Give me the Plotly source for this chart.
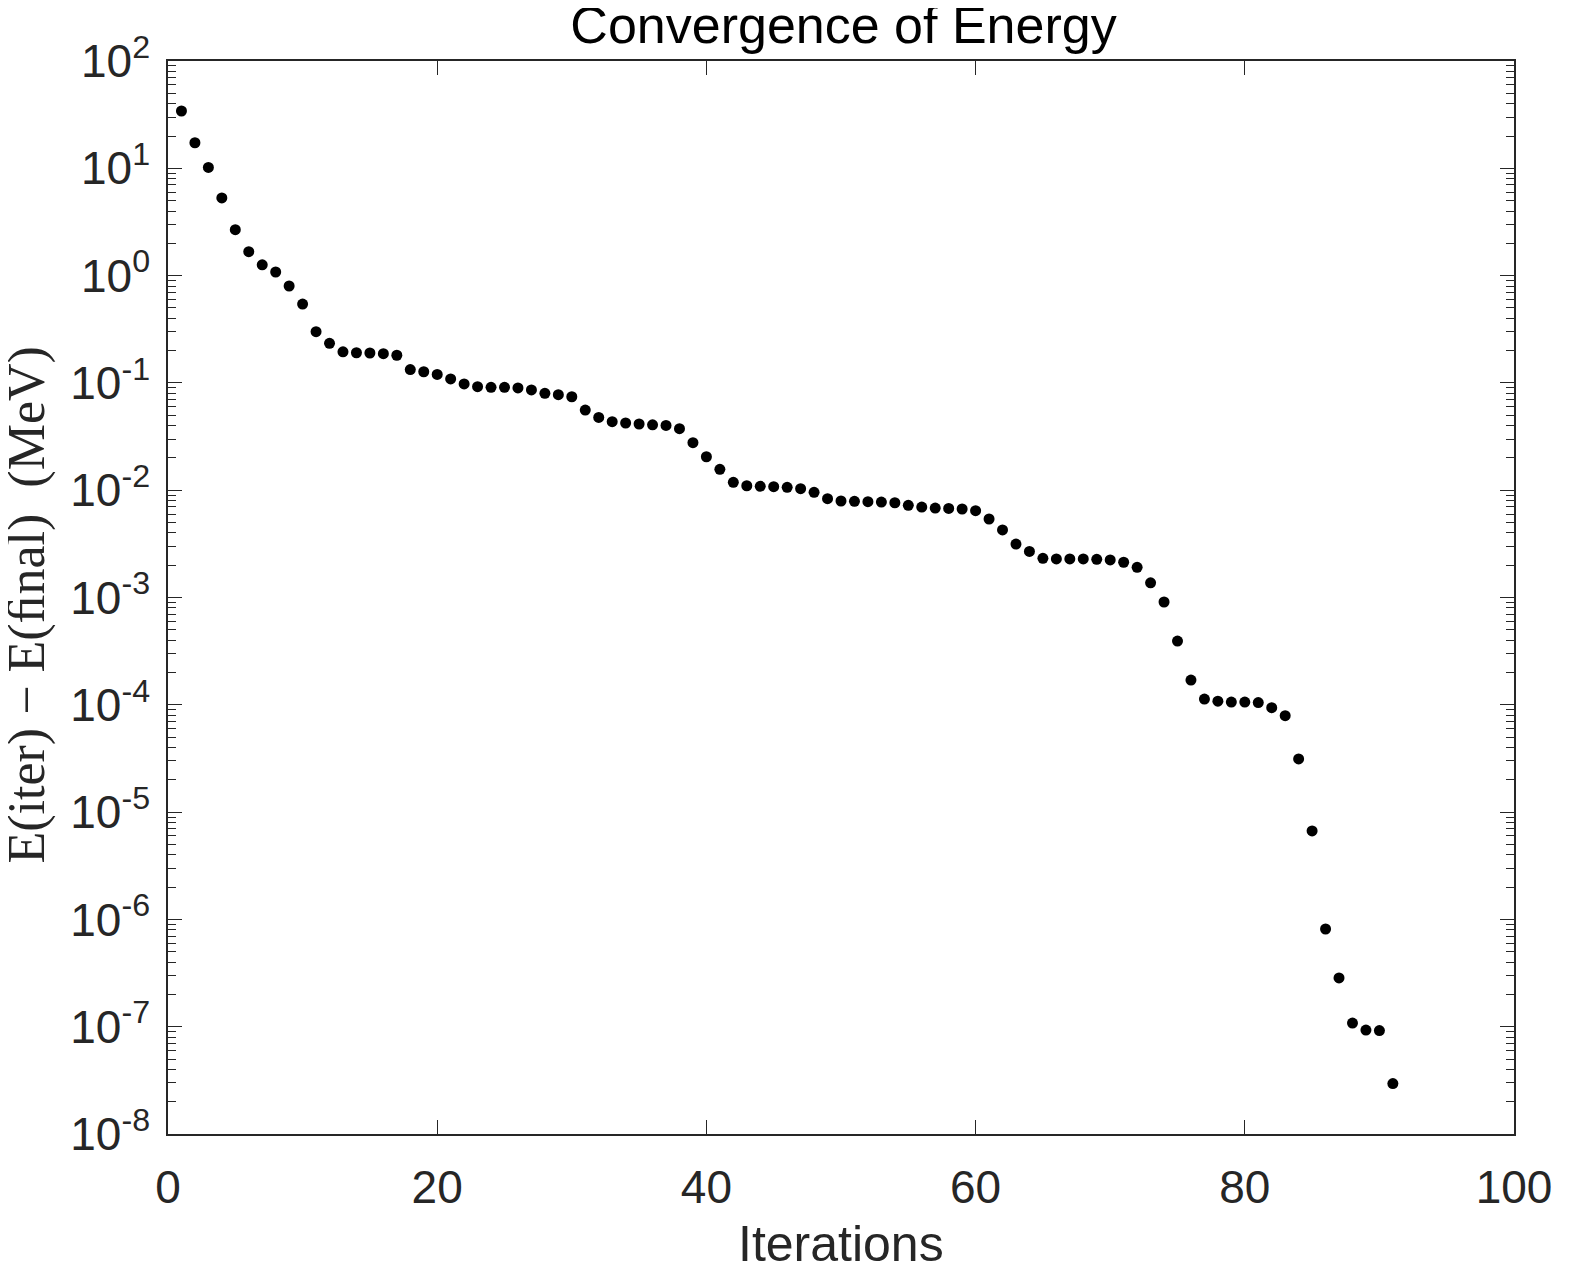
import plotly.graph_objects as go

iterations = list(range(1, 92))
energy_diff = [
    34.2, 17.3, 10.2, 5.3, 2.68, 1.67, 1.26, 1.08, 0.80, 0.543,
    0.300, 0.234, 0.195, 0.191, 0.190, 0.187, 0.181, 0.133, 0.127, 0.120,
    0.109, 0.0977, 0.0923, 0.0910, 0.0910, 0.0897, 0.0860, 0.0800, 0.0776, 0.0743,
    0.0558, 0.0477, 0.0435, 0.0423, 0.0414, 0.0407, 0.0401, 0.0374, 0.0277, 0.0205,
    0.01566, 0.01184, 0.0110, 0.01086, 0.01078, 0.01064, 0.01033, 0.00955, 0.00833, 0.00793,
    0.00787, 0.00781, 0.00776, 0.00764, 0.00723, 0.00697, 0.00682, 0.00677, 0.00668, 0.00644,
    0.00539, 0.00426, 0.00315, 0.00269, 0.00232, 0.00229, 0.00229, 0.00229, 0.00227, 0.00224,
    0.00213, 0.00191, 0.00137, 0.000908, 0.000393, 0.000170, 0.000113, 0.000108, 0.000106, 0.000106,
    0.000105, 0.0000940, 0.0000792, 0.0000313, 6.67e-6, 8.14e-7, 2.85e-7, 1.08e-7, 9.3e-8, 9.2e-8,
    2.95e-8,
]

y_tickvals = [1e-8, 1e-7, 1e-6, 1e-5, 1e-4, 1e-3, 1e-2, 1e-1, 1e0, 1e1, 1e2]
y_ticktext = ["10<sup>-8</sup>", "10<sup>-7</sup>", "10<sup>-6</sup>", "10<sup>-5</sup>",
              "10<sup>-4</sup>", "10<sup>-3</sup>", "10<sup>-2</sup>", "10<sup>-1</sup>",
              "10<sup>0</sup>", "10<sup>1</sup>", "10<sup>2</sup>"]
x_tickvals = [0, 20, 40, 60, 80, 100]

title_text = "Convergence of Energy"
x_label = "Iterations"
y_label = "E(iter) \u2212 E(\ufb01nal)  (MeV)"

axis_color = "#262626"
OFF = 8  # page body margin (all sides)
W, H = 1572 - 2 * OFF, 1270 - 2 * OFF
# target page-pixel geometry of the plot box
PL, PR, PT, PB = 168, 1519, 61, 1134
L, T = PL - OFF, PT - OFF
R = W - (PR - OFF)
B = H - (PB - OFF)
plot_w = W - L - R
plot_h = H - T - B

fig = go.Figure()
fig.add_trace(go.Scatter(
    x=iterations, y=energy_diff, mode="markers",
    marker=dict(color="black", size=11, line=dict(width=0)),
    showlegend=False,
))

fig.update_layout(
    width=W, height=H,
    margin=dict(l=L, r=R, t=T, b=B),
    paper_bgcolor="white", plot_bgcolor="white",
    font=dict(family="Liberation Sans, Arial, sans-serif", color=axis_color, size=46),
    title=dict(text=title_text, x=(L + plot_w / 2) / W, xanchor="center",
               y=1 - (25 - OFF) / H, yanchor="middle", yref="container",
               font=dict(size=52, color="black", family="Liberation Sans, Arial, sans-serif")),
)

fig.update_xaxes(
    range=[0, 100], tickmode="array", tickvals=x_tickvals,
    ticks="inside", ticklen=14, tickwidth=1, tickcolor=axis_color,
    showline=True, linecolor=axis_color, linewidth=1.5, mirror="ticks",
    showgrid=False, zeroline=False,
    tickfont=dict(size=46, color=axis_color),
    ticklabelstandoff=12, ticklabeloverflow="allow",
)

fig.update_yaxes(
    type="log", range=[-8, 2], tickmode="array", tickvals=y_tickvals, ticktext=y_ticktext,
    ticks="inside", ticklen=14, tickwidth=1, tickcolor=axis_color,
    showline=True, linecolor=axis_color, linewidth=1.5, mirror="ticks",
    showgrid=False, zeroline=False,
    tickfont=dict(size=46, color=axis_color),
    ticklabelstandoff=7,
    minor=dict(ticks="inside", ticklen=8, tickwidth=1, tickcolor=axis_color,
               dtick="D1", showgrid=False),
)

fig.add_annotation(
    text=x_label, xref="paper", yref="paper",
    x=0.5, y=-(1244 - PB) / plot_h, xanchor="center", yanchor="middle",
    showarrow=False, font=dict(size=50, color=axis_color, family="Liberation Sans, Arial, sans-serif"),
)
fig.add_annotation(
    text=y_label, xref="paper", yref="paper",
    x=-(PL - 26) / plot_w, y=0.5 - (605 - (PT + plot_h / 2)) / plot_h,
    xanchor="center", yanchor="middle", textangle=-90,
    showarrow=False, font=dict(size=52, color=axis_color, family="Liberation Serif, Times New Roman, serif"),
)

fig.write_html("out.html", config={"displayModeBar": False})
